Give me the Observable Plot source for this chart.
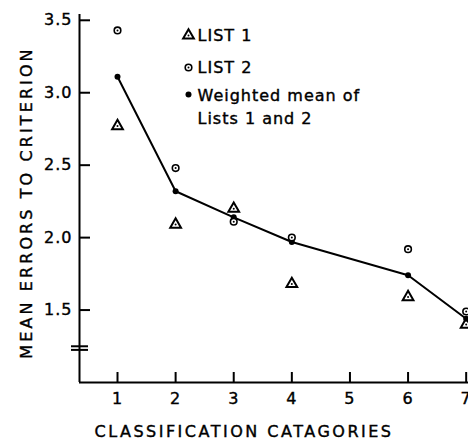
<!DOCTYPE html>
<html><head><meta charset="utf-8">
<script src="https://cdn.jsdelivr.net/npm/d3@7"></script>
<script src="https://cdn.jsdelivr.net/npm/@observablehq/plot@0.6"></script>
<style>body{margin:0;background:#fff} svg{display:block}</style>
</head><body><div id="chart"></div>
<script>
const categories = [1, 2, 3, 4, 6, 7];
const list1 = [2.77, 2.09, 2.20, 1.68, 1.59, 1.40];
const list2 = [3.43, 2.48, 2.11, 2.00, 1.92, 1.49];
const weightedMean = [3.11, 2.32, 2.14, 1.97, 1.74, 1.44];
const xTicks = [1, 2, 3, 4, 5, 6, 7];
const yTicks = [1.5, 2.0, 2.5, 3.0, 3.5];
const yBreak = [1.225, 1.25];
const xDomain = [0.346, 7.04];
const yDomain = [1.0, 3.54];
const legendLabels = ["LIST 1", "LIST 2", "Weighted mean of\nLists 1 and 2"];
const xTitle = "CLASSIFICATION CATAGORIES";
const yTitle = "MEAN ERRORS TO CRITERION";

const rows = categories.map((c, i) => ({c, l1: list1[i], l2: list2[i], m: weightedMean[i]}));

const W = 468, H = 441, mL = 79, mR = 0, mT = 14, mB = 59;
const pw = W - mL - mR, ph = H - mT - mB;
const font = "DejaVu Sans";

const chart = Plot.plot({
  width: W, height: H,
  marginLeft: mL, marginRight: mR, marginTop: mT, marginBottom: mB,
  style: {fontFamily: font, background: "white", color: "black", overflow: "visible"},
  x: {domain: xDomain},
  y: {domain: yDomain},
  marks: [
    Plot.ruleX([xDomain[0]], {stroke: "black", strokeWidth: 2}),
    Plot.ruleY([yDomain[0]], {stroke: "black", strokeWidth: 2}),
    Plot.ruleY(yTicks, {stroke: "black", strokeWidth: 2, insetRight: pw - 11}),
    Plot.ruleX(xTicks, {stroke: "black", strokeWidth: 2, insetTop: ph - 10}),
    Plot.ruleY(yBreak, {stroke: "black", strokeWidth: 2, insetLeft: -8, insetRight: pw - 9}),
    Plot.axisY(yTicks, {tickSize: 0, tickPadding: 7, tickFormat: ".1f", fontSize: 16, label: null}),
    Plot.axisX(xTicks, {tickSize: 0, tickPadding: 10, fontSize: 16, label: null}),
    Plot.text([yTitle], {text: d => d, frameAnchor: "left", textAnchor: "middle", lineAnchor: "middle", rotate: -90, dx: -53, dy: 4, fontSize: 16}),
    Plot.text([xTitle], {text: d => d, frameAnchor: "bottom", textAnchor: "middle", lineAnchor: "middle", dx: -30, dy: 49, fontSize: 16}),
    // legend
    Plot.dot([legendLabels[0]], {frameAnchor: "top-left", dx: 109, dy: 21, symbol: "triangle", r: 4, fill: "white", stroke: "black", strokeWidth: 2}),
    Plot.dot([legendLabels[0]], {frameAnchor: "top-left", dx: 109, dy: 21, r: 1, fill: "black"}),
    Plot.dot([legendLabels[1]], {frameAnchor: "top-left", dx: 109, dy: 53, r: 3.3, fill: "white", stroke: "black", strokeWidth: 1.6}),
    Plot.dot([legendLabels[1]], {frameAnchor: "top-left", dx: 109, dy: 53, r: 1, fill: "black"}),
    Plot.dot([legendLabels[2]], {frameAnchor: "top-left", dx: 109, dy: 80, r: 3, fill: "black"}),
    Plot.text([legendLabels[0]], {text: d => d, frameAnchor: "top-left", dx: 118, dy: 21, textAnchor: "start", lineAnchor: "middle", fontSize: 16}),
    Plot.text([legendLabels[1]], {text: d => d, frameAnchor: "top-left", dx: 118, dy: 53, textAnchor: "start", lineAnchor: "middle", fontSize: 16}),
    Plot.text([legendLabels[2]], {text: d => d, frameAnchor: "top-left", dx: 118, dy: 70, textAnchor: "start", lineAnchor: "top", lineHeight: 1.44, fontSize: 16}),
    // data
    Plot.line(rows, {x: "c", y: "m", stroke: "black", strokeWidth: 2}),
    Plot.dot(rows, {x: "c", y: "l1", symbol: "triangle", r: 4, fill: "white", stroke: "black", strokeWidth: 2}),
    Plot.dot(rows, {x: "c", y: "l1", r: 1, fill: "black"}),
    Plot.dot(rows, {x: "c", y: "m", r: 3, fill: "black"}),
    Plot.dot(rows, {x: "c", y: "l2", r: 3.3, fill: "white", stroke: "black", strokeWidth: 1.6}),
    Plot.dot(rows, {x: "c", y: "l2", r: 1, fill: "black"})
  ]
});
document.getElementById("chart").appendChild(chart);
d3.select(chart).selectAll("text").each(function() {
  const t = this.textContent;
  this.style.letterSpacing = t === yTitle ? "3.1px" : t === xTitle ? "2.5px" : "1px";
  this.style.stroke = "black";
  this.style.strokeWidth = "0.4px";
});
</script>
</body></html>
